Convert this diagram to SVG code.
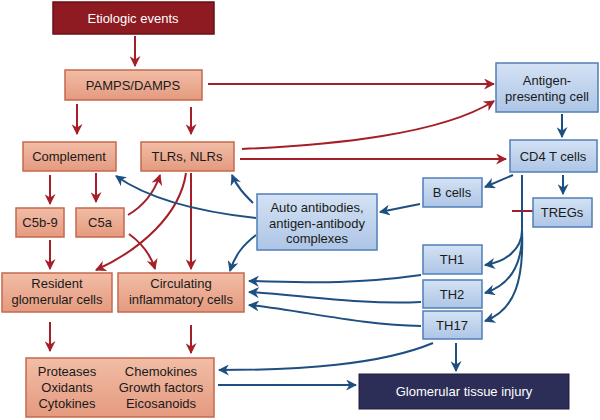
<svg xmlns="http://www.w3.org/2000/svg" width="600" height="420" viewBox="0 0 600 420">
<defs>
<linearGradient id="gs" x1="0" y1="0" x2="0" y2="1"><stop offset="0" stop-color="#f2bda6"/><stop offset="1" stop-color="#e49a7f"/></linearGradient>
<linearGradient id="gb" x1="0" y1="0" x2="0" y2="1"><stop offset="0" stop-color="#d4e2f4"/><stop offset="1" stop-color="#adc5e6"/></linearGradient>
<marker id="ar" viewBox="0 0 10 10" refX="9" refY="5" markerWidth="11" markerHeight="11" markerUnits="userSpaceOnUse" orient="auto"><path d="M0,0 L10,5 L0,10 L3,5 z" fill="#a51f28"/></marker>
<marker id="ab" viewBox="0 0 10 10" refX="9" refY="5" markerWidth="11" markerHeight="11" markerUnits="userSpaceOnUse" orient="auto"><path d="M0,0 L10,5 L0,10 L3,5 z" fill="#1d4f80"/></marker>
<style>
.s{fill:url(#gs);stroke:#c4694e;stroke-width:1.5}
.b{fill:url(#gb);stroke:#4f7fb5;stroke-width:1.5}
text{font-family:"Liberation Sans",Arial,sans-serif;font-size:13px;fill:#1a1a1a;text-anchor:middle}
.w{fill:#ffffff}
.r{fill:none;stroke:#a51f28;stroke-width:2;marker-end:url(#ar)}
.bl{fill:none;stroke:#1d4f80;stroke-width:2;marker-end:url(#ab)}
.bn{fill:none;stroke:#1d4f80;stroke-width:2}
</style>
</defs>
<g id="connectors">
<path class="r" d="M135,36 V66"/>
<path class="r" d="M208,84 H494"/>
<path class="r" d="M242,149 C330,145 440,135 494,101"/>
<path class="r" d="M240,159 H506"/>
<path class="r" d="M77,104 V134"/>
<path class="r" d="M191,107 V134"/>
<path class="r" d="M50,175 V204"/>
<path class="r" d="M96,173 V202"/>
<path class="r" d="M128,215 C145,205 155,190 160,175"/>
<path class="r" d="M129,234 C140,242 150,252 155,269"/>
<path class="r" d="M186,173 C180,215 140,250 96,270"/>
<path class="r" d="M191,173 V269"/>
<path class="r" d="M50,240 V269"/>
<path class="r" d="M50,322 V351"/>
<path class="r" d="M191,325 V353"/>
<path d="M512,211 H533" fill="none" stroke="#a51f28" stroke-width="2"/>
<path class="bl" d="M256,218 C200,212 150,200 116,176"/>
<path class="bl" d="M253,203 C245,195 237,187 232,175"/>
<path class="bl" d="M256,235 C243,245 235,255 230,271"/>
<path class="bl" d="M562,114 V137"/>
<path class="bl" d="M513,175 L485,187"/>
<path class="bl" d="M420,204 L380,212"/>
<path class="bl" d="M563,175 V194"/>
<path class="bn" d="M522,175 V230"/>
<path class="bl" d="M522,230 C522,250 505,262 485,265"/>
<path class="bl" d="M522,230 C523,265 510,285 485,293"/>
<path class="bl" d="M522,230 C524,280 515,310 485,321"/>
<path class="bl" d="M421,275 C350,285 300,282 249,281"/>
<path class="bl" d="M421,302 C360,305 300,295 249,292"/>
<path class="bl" d="M421,326 C360,325 300,310 249,305"/>
<path class="bl" d="M433,343 C380,365 300,370 219,370"/>
<path class="bl" d="M456,343 V371"/>
<path class="bl" d="M218,385 H356"/>
</g>
<g id="etiologic"><rect x="53" y="2" width="161" height="32" fill="#8e1b22" stroke="#6a1015" stroke-width="1.5"/><text class="w" x="133" y="23">Etiologic events</text></g>
<g id="pamps"><rect class="s" x="65" y="70" width="137" height="30"/><text x="133" y="90">PAMPS/DAMPS</text></g>
<g id="complement"><rect class="s" x="23" y="142" width="93" height="29"/><text x="69" y="161">Complement</text></g>
<g id="tlrs"><rect class="s" x="141" y="142" width="93" height="29"/><text x="187" y="161">TLRs, NLRs</text></g>
<g id="c5b9"><rect class="s" x="16" y="208" width="48" height="29"/><text x="40" y="227">C5b-9</text></g>
<g id="c5a"><rect class="s" x="76" y="208" width="48" height="29"/><text x="100" y="227">C5a</text></g>
<g id="resident"><rect class="s" x="2" y="273" width="110" height="39"/><text x="57" y="288">Resident</text><text x="57" y="304">glomerular cells</text></g>
<g id="circulating"><rect class="s" x="118" y="273" width="126" height="39"/><text x="181" y="288">Circulating</text><text x="181" y="304">inflammatory cells</text></g>
<g id="mediators"><rect class="s" x="26" y="358" width="188" height="59"/>
<text x="67" y="376">Proteases</text><text x="67" y="392">Oxidants</text><text x="67" y="408">Cytokines</text>
<text x="161" y="376">Chemokines</text><text x="161" y="392">Growth factors</text><text x="161" y="408">Eicosanoids</text></g>
<g id="apc"><rect class="b" x="496" y="63" width="102" height="49"/><text x="547" y="85">Antigen-</text><text x="547" y="101">presenting cell</text></g>
<g id="cd4"><rect class="b" x="510" y="140" width="87" height="32"/><text x="553" y="161">CD4 T cells</text></g>
<g id="bcells"><rect class="b" x="423" y="178" width="59" height="29"/><text x="452" y="197">B cells</text></g>
<g id="tregs"><rect class="b" x="533" y="198" width="59" height="29"/><text x="562" y="217">TREGs</text></g>
<g id="auto"><rect class="b" x="257" y="194" width="120" height="56"/><text x="317" y="212">Auto antibodies,</text><text x="317" y="228">antigen-antibody</text><text x="317" y="243">complexes</text></g>
<g id="th1"><rect class="b" x="423" y="245" width="59" height="29"/><text x="452" y="264">TH1</text></g>
<g id="th2"><rect class="b" x="423" y="280" width="59" height="28"/><text x="452" y="299">TH2</text></g>
<g id="th17"><rect class="b" x="423" y="311" width="59" height="28"/><text x="452" y="330">TH17</text></g>
<g id="injury"><rect x="359" y="374" width="210" height="35" fill="#2c2e57" stroke="#1c1d3a" stroke-width="1"/><text class="w" x="464" y="396">Glomerular tissue injury</text></g>
</svg>
